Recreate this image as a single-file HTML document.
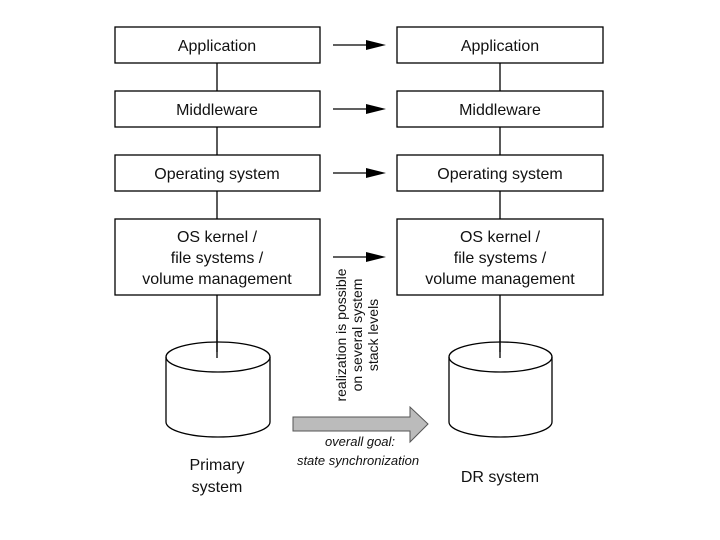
<!DOCTYPE html>
<html><head><style>body{margin:0;background:#fff}svg{display:block}</style></head><body>
<svg width="720" height="540" viewBox="0 0 720 540" xmlns="http://www.w3.org/2000/svg" font-family="Liberation Sans, sans-serif" fill="none">
<g stroke="#000" stroke-width="1.3">
<line x1="217" y1="63" x2="217" y2="91"/><line x1="217" y1="127" x2="217" y2="155"/><line x1="217" y1="191" x2="217" y2="219"/><line x1="217" y1="295" x2="217" y2="358"/>
<line x1="500" y1="63" x2="500" y2="91"/><line x1="500" y1="127" x2="500" y2="155"/><line x1="500" y1="191" x2="500" y2="219"/><line x1="500" y1="295" x2="500" y2="358"/>
<rect x="115" y="27" width="205" height="36" fill="#fff"/><rect x="115" y="91" width="205" height="36" fill="#fff"/><rect x="115" y="155" width="205" height="36" fill="#fff"/><rect x="115" y="219" width="205" height="76" fill="#fff"/>
<rect x="397" y="27" width="206" height="36" fill="#fff"/><rect x="397" y="91" width="206" height="36" fill="#fff"/><rect x="397" y="155" width="206" height="36" fill="#fff"/><rect x="397" y="219" width="206" height="76" fill="#fff"/>
<line x1="333" y1="45" x2="368" y2="45"/><line x1="333" y1="109" x2="368" y2="109"/><line x1="333" y1="173" x2="368" y2="173"/><line x1="333" y1="257" x2="368" y2="257"/>
<path d="M166 357 V422 A52 15 0 0 0 270 422 V357"/><ellipse cx="218" cy="357" rx="52" ry="15"/>
<path d="M449 357 V422 A51.5 15 0 0 0 552 422 V357"/><ellipse cx="500.5" cy="357" rx="51.5" ry="15"/>
</g>
<line x1="217" y1="330" x2="217" y2="352" stroke="#000" stroke-width="1.3"/>
<line x1="500" y1="330" x2="500" y2="352" stroke="#000" stroke-width="1.3"/>
<g fill="#000"><path d="M366 40 L386 45 L366 50Z"/><path d="M366 104 L386 109 L366 114Z"/><path d="M366 168 L386 173 L366 178Z"/><path d="M366 252 L386 257 L366 262Z"/></g>
<path d="M293 417 H410 V407 L428 424 L410 442 V431 H293Z" fill="#bbb" stroke="#555" stroke-width="1"/>
<g fill="#111" font-size="16" text-anchor="middle">
<text x="217" y="51">Application</text><text x="217" y="115">Middleware</text><text x="217" y="179">Operating system</text>
<text x="217" y="242">OS kernel /</text><text x="217" y="263">file systems /</text><text x="217" y="284">volume management</text>
<text x="500" y="51">Application</text><text x="500" y="115">Middleware</text><text x="500" y="179">Operating system</text>
<text x="500" y="242">OS kernel /</text><text x="500" y="263">file systems /</text><text x="500" y="284">volume management</text>
<text x="217" y="470">Primary</text><text x="217" y="492">system</text><text x="500" y="482">DR system</text>
<g font-size="13" font-style="italic"><text x="360" y="446">overall goal:</text><text x="358" y="465">state synchronization</text></g>
<g font-size="14" transform="translate(356 335) rotate(-90)"><text x="0" y="-10">realization is possible</text><text x="0" y="6">on several system</text><text x="0" y="22">stack levels</text></g>
</g>
</svg>
</body></html>
